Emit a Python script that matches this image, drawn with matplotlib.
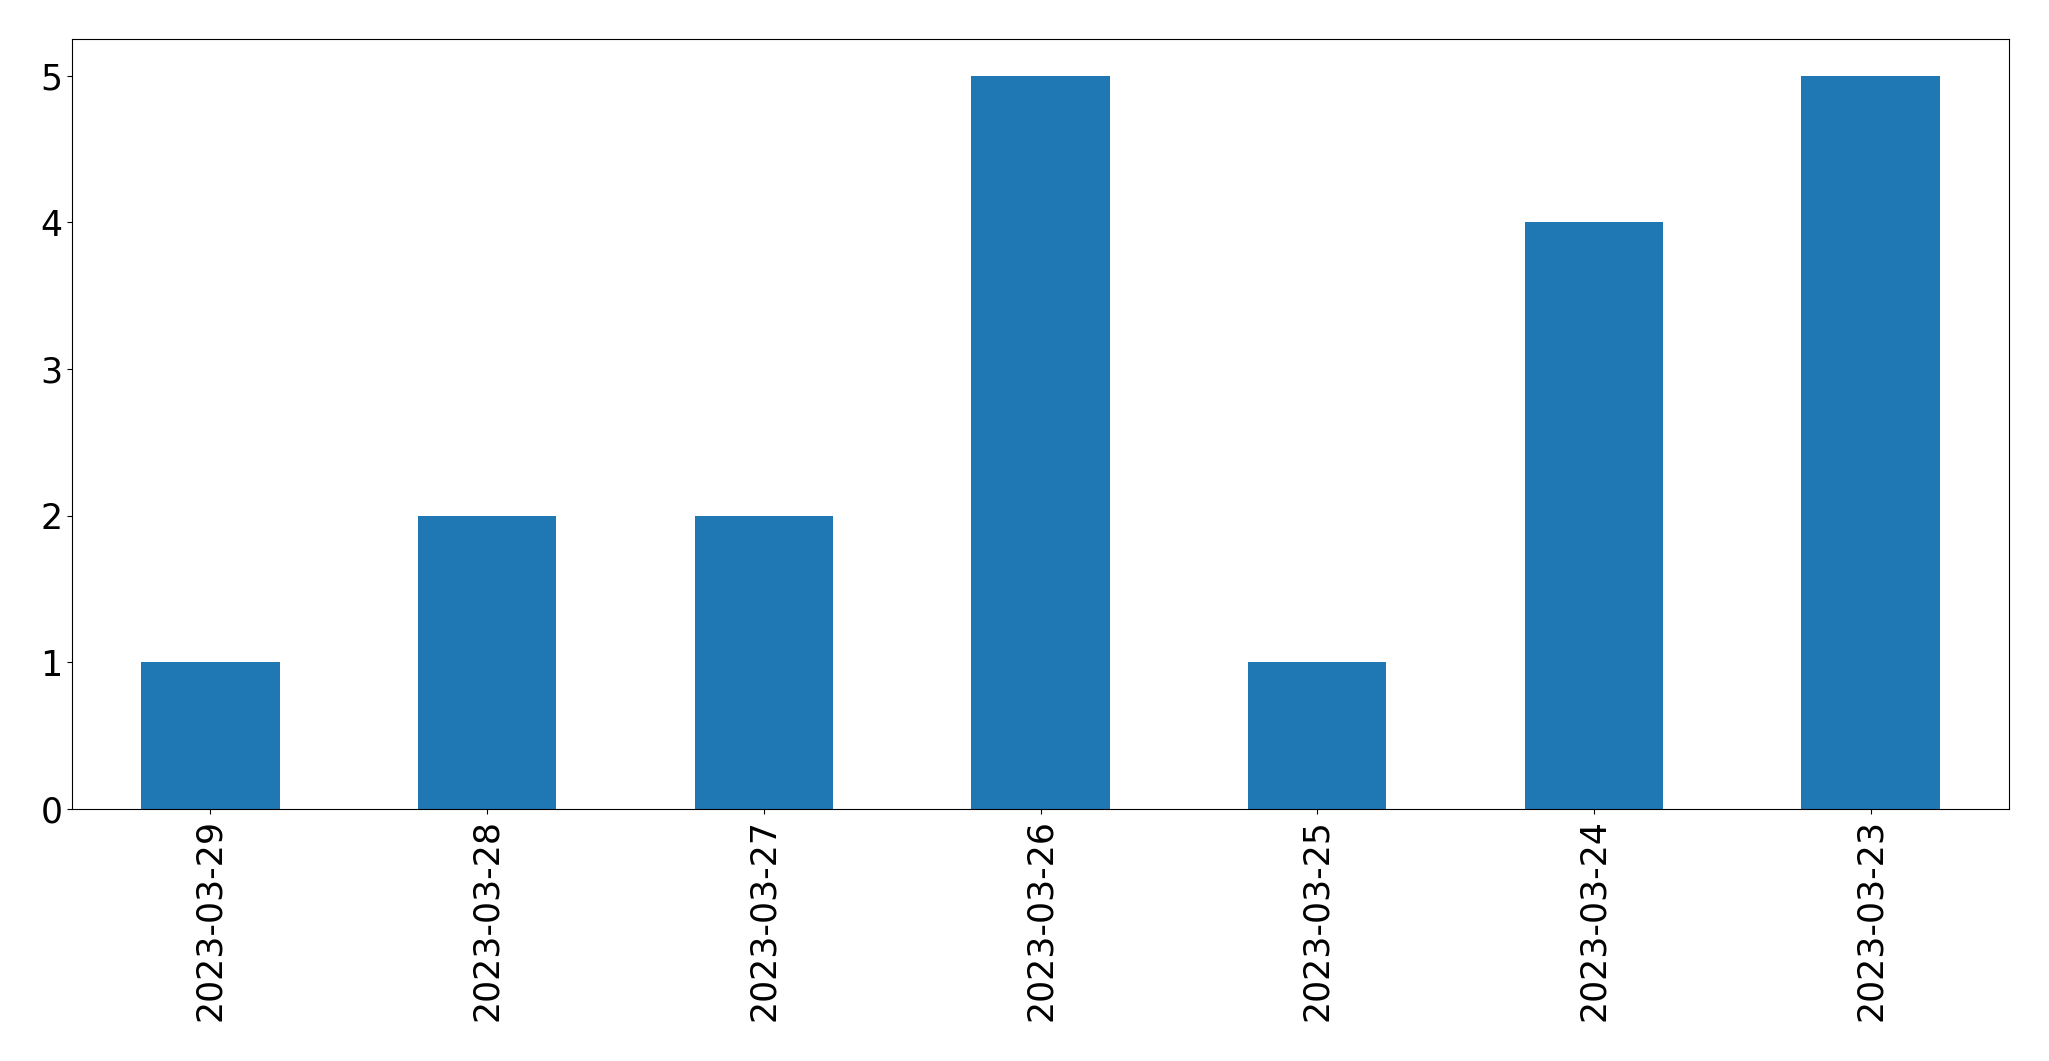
import matplotlib
matplotlib.use("Agg")
from matplotlib import pyplot as plt
import pandas as pd

dates = ["2023-03-29", "2023-03-28", "2023-03-27", "2023-03-26",
         "2023-03-25", "2023-03-24", "2023-03-23"]
counts = [1, 2, 2, 5, 1, 4, 5]

s = pd.Series(counts, index=dates)

fig = plt.figure(figsize=(20.49, 10.61), dpi=100)
ax = fig.add_axes([72 / 2049, 1 - 809 / 1061, (2009 - 72) / 2049, (809 - 39) / 1061])
s.plot(kind="bar", ax=ax, color="#1f77b4")
ax.tick_params(axis="both", labelsize=25)
ax.set_yticks([0, 1, 2, 3, 4, 5])

fig.savefig("out.png", dpi=100)
